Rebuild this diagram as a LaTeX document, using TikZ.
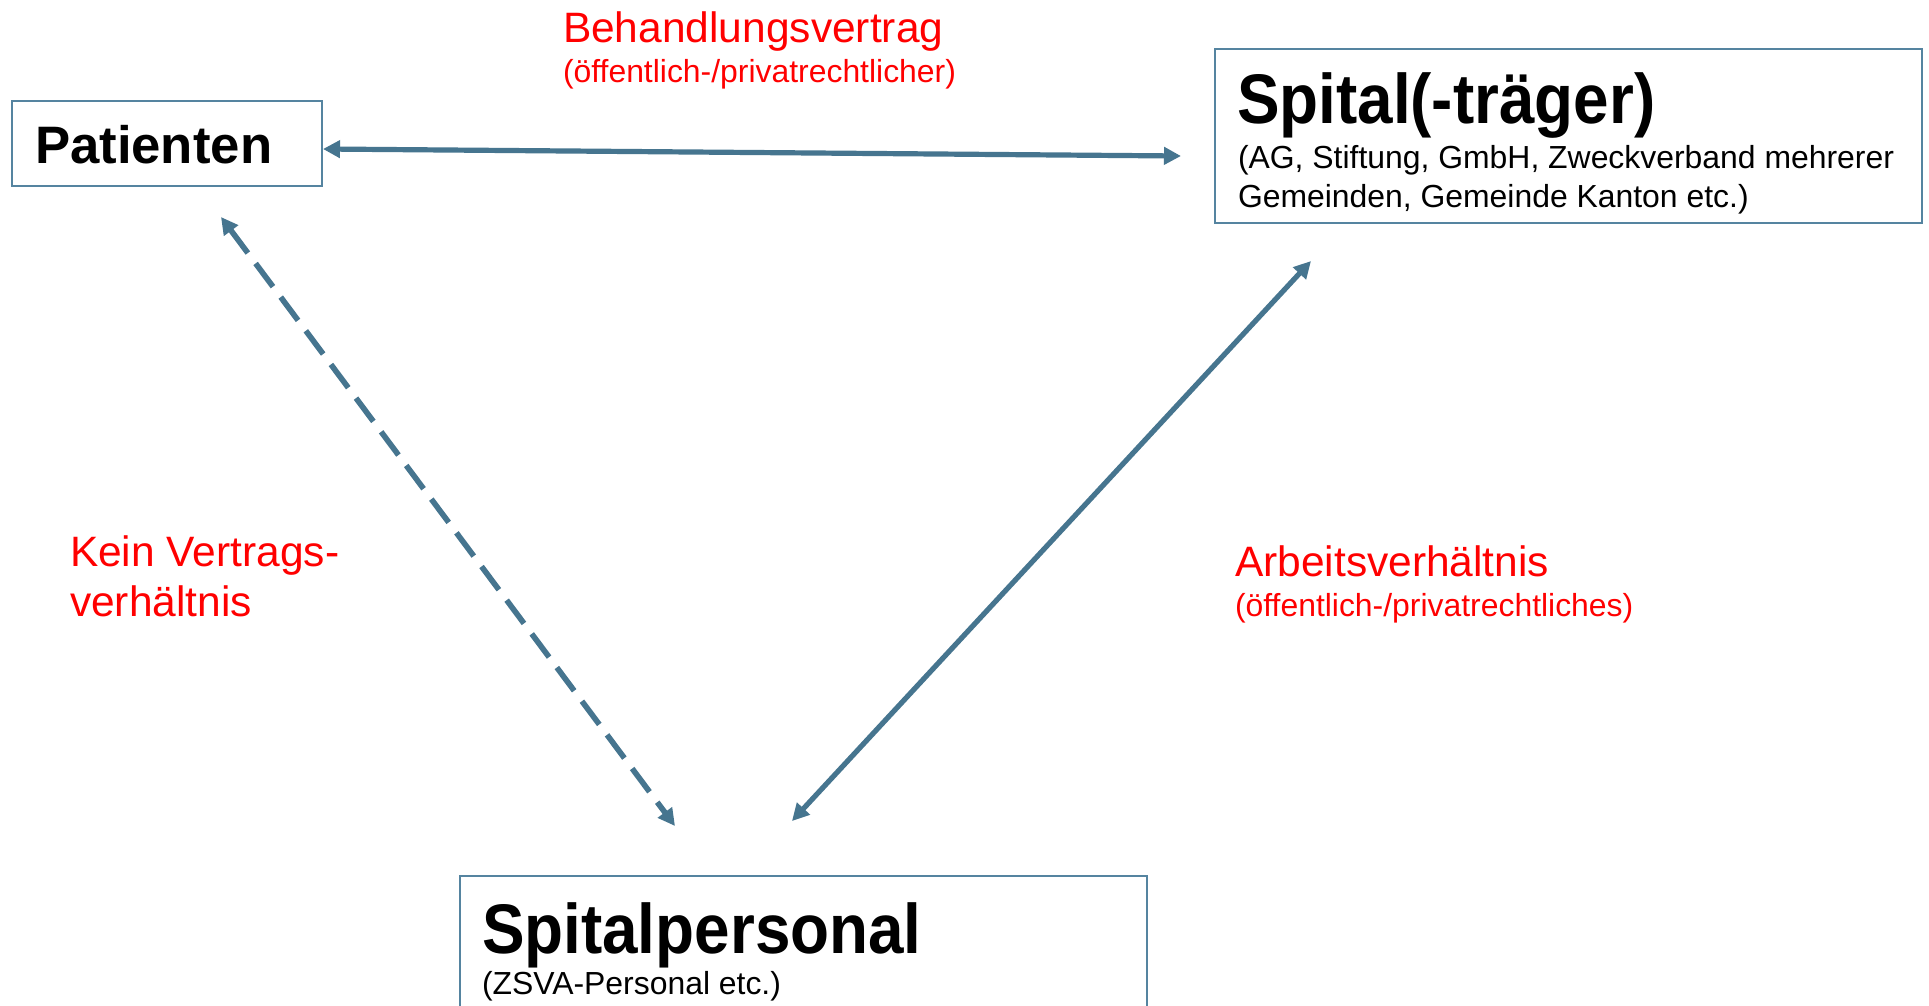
\documentclass[tikz,border=0pt]{standalone}
\usepackage{fontspec}
\usepackage{graphicx}
\setmainfont{Liberation Sans}
\usetikzlibrary{arrows.meta}
\definecolor{arrowblue}{HTML}{46758F}
\definecolor{boxblue}{HTML}{5584A0}
\definecolor{lblred}{HTML}{FF0000}
\begin{document}
\begin{tikzpicture}[x=0.5pt,y=-0.5pt,
  box/.style={draw=boxblue, line width=1pt, fill=white, rectangle, inner sep=0pt, outer sep=0pt, anchor=north west},
  txt/.style={anchor=base west, inner sep=0pt, outer sep=0pt},
  lbl/.style={txt, text=lblred},
  title/.style={txt, font=\fontsize{31.9pt}{38pt}\selectfont\bfseries},
  sub/.style={txt, font=\fontsize{15.95pt}{19pt}\selectfont},
  biglbl/.style={lbl, font=\fontsize{21.25pt}{25pt}\selectfont},
  smalllbl/.style={lbl, font=\fontsize{15.95pt}{19pt}\selectfont},
  rel/.style={draw=arrowblue, line width=2.6pt, {Triangle[length=8.5pt,width=8.5pt]}-{Triangle[length=8.5pt,width=8.5pt]}},
  nocontract/.style={rel, dash pattern=on 14.5pt off 6.5pt, line width=2.8pt}
]
\useasboundingbox (0,0) rectangle (1929,1006);
\fill[white] (0,0) rectangle (1929,1006);

% boxes
\node[box, minimum width=155pt, minimum height=42.5pt] (pat) at (12,101) {};
\node[box, minimum width=353.5pt, minimum height=87pt] (spital) at (1215,49) {};
\node[box, minimum width=343.5pt, minimum height=80pt] (pers) at (460,876) {};

% box texts
\node[txt, font=\fontsize{26.35pt}{30pt}\selectfont\bfseries] (pattxt) at (35,163) {Patienten};
\node[title] (spitaltxt) at (1237,124) {\scalebox{1}[1.1]{Spital(-träger)}};
\node[sub] (spitalsub1) at (1238,169) {(AG, Stiftung, GmbH, Zweckverband mehrerer};
\node[sub] (spitalsub2) at (1238,207) {Gemeinden, Gemeinde Kanton etc.)};
\node[title] (perstxt) at (482,953) {\scalebox{1}[1.1]{Spitalpersonal}};
\node[sub] (perssub) at (482,994) {(ZSVA-Personal etc.)};

% relation labels
\node[biglbl] (behand) at (563,43) {Behandlungsvertrag};
\node[smalllbl] (behandsub) at (563,83) {(öffentlich-/privatrechtlicher)};
\node[biglbl] (kein1) at (70,566) {Kein Vertrags-};
\node[biglbl] (kein2) at (70,616) {verhältnis};
\node[biglbl] (arbeit) at (1235,576) {Arbeitsverhältnis};
\node[smalllbl] (arbeitsub) at (1235,616) {(öffentlich-/privatrechtliches)};

% connector end points
\coordinate (patR) at (323,149);
\coordinate (spitalL) at (1181,156);
\coordinate (patB) at (221,217);
\coordinate (persTL) at (675,826);
\coordinate (spitalB) at (1311,261);
\coordinate (persTR) at (792,821);

% connectors
\draw[rel] (patR) -- (spitalL);
\draw[nocontract] (patB) -- (persTL);
\draw[rel] (spitalB) -- (persTR);
\end{tikzpicture}
\end{document}
